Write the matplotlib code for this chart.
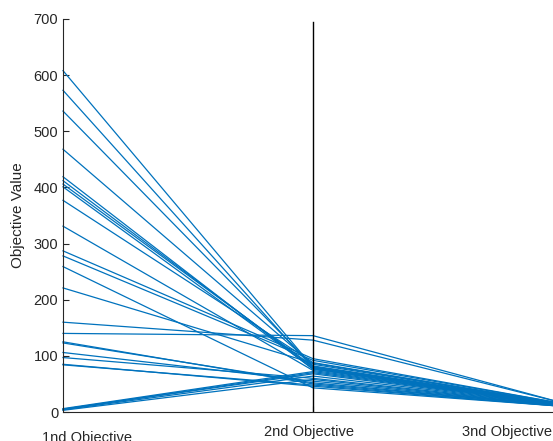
import matplotlib
matplotlib.use("Agg")
import matplotlib.pyplot as plt
import matplotlib.transforms as mtransforms

plt.rcParams['font.family'] = ['Liberation Sans', 'DejaVu Sans']

axis_labels = ["1nd Objective", "2nd Objective", "3nd Objective"]
obj1 = [608, 573, 536, 468, 419, 412, 406, 401, 377, 331, 287, 278, 259, 221,
        160, 140, 125, 123, 106, 97, 85, 84, 6, 5, 4, 3, 5]
obj2 = [80, 78, 82, 85, 76, 79, 81, 77, 88, 74, 95, 92, 43, 87,
        128, 136, 50, 52, 55, 60, 46, 48, 72, 68, 64, 58, 70]
obj3 = [13, 13, 14, 14, 12, 13, 13, 12, 14, 12, 15, 15, 10, 14,
        16, 16, 11, 11, 11, 12, 10, 10, 13, 12, 12, 11, 13]

color = "#0072BD"
dark = "#262626"

fig = plt.figure(figsize=(5.53, 4.41), dpi=100)
ax = fig.add_axes([63/553, 1-412/441, (563-63)/553, (412-19)/441])

xs = [1, 2, 3]
for a, b, c in zip(obj1, obj2, obj3):
    ax.plot(xs, [a, b, c], color=color, lw=0.9, clip_on=False)

ax.axvline(2, ymin=0, ymax=(412-22)/(412-19), color='black', lw=1.0)

ax.set_xlim(1, 3)
ax.set_ylim(0, 700)
ax.set_yticks(range(0, 701, 100))
ax.set_xticks([2])
ax.set_xticklabels([""])
ax.tick_params(axis='both', direction='in', length=4, colors=dark, labelsize=10.5)
for s in ['top', 'right']:
    ax.spines[s].set_visible(False)
for s in ['left', 'bottom']:
    ax.spines[s].set_color(dark)
    ax.spines[s].set_linewidth(0.8)

ax.set_ylabel("Objective Value", fontsize=11, color=dark, labelpad=6)

trans = ax.get_xaxis_transform()
offs = [(-21, -26, 'left'), (-4, -20, 'center'), (-11, -20, 'right')]
for x, lab, (dx, dy, ha) in zip(xs, axis_labels, offs):
    t = mtransforms.offset_copy(trans, fig=fig, x=dx, y=dy, units='dots')
    ax.text(x, 0, lab, transform=t, ha=ha, va='center', fontsize=10.5, color=dark)

fig.savefig("out.png", dpi=100)
